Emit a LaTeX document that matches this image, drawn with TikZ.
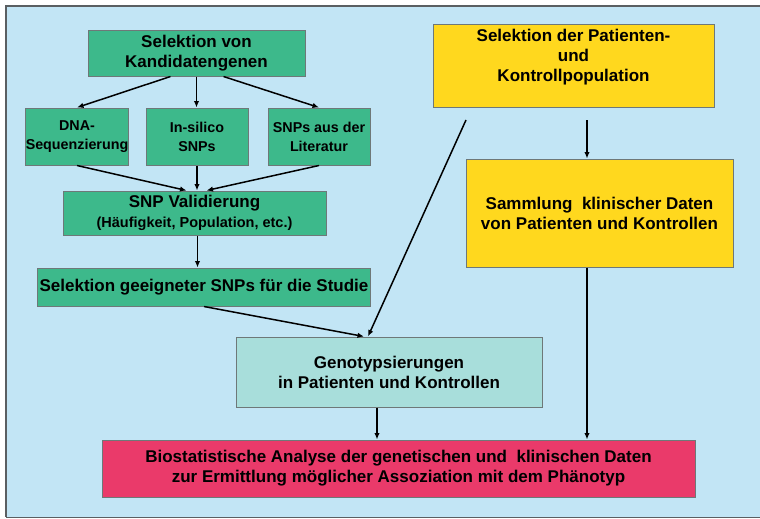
\documentclass[tikz,border=0pt]{standalone}
\usepackage{fontspec}
\setmainfont{Liberation Sans}
\usepackage{tikz}
\usetikzlibrary{arrows.meta}
\definecolor{panelblue}{HTML}{C2E5F5}
\definecolor{framegray}{HTML}{5A5F62}
\definecolor{boxline}{HTML}{6E7878}
\definecolor{snpgreen}{HTML}{3DB98B}
\definecolor{patyellow}{HTML}{FFD81E}
\definecolor{genotint}{HTML}{A8DEDB}
\definecolor{statred}{HTML}{EA3A6A}

\begin{document}
\begin{tikzpicture}[
    x=1pt, y=-1pt,
    font=\fontsize{17}{20}\selectfont\bfseries,
    box/.style={draw=boxline, line width=1pt, align=center, inner sep=2pt},
    snpbox/.style={box, fill=snpgreen},
    smallsnp/.style={snpbox, inner xsep=0pt, minimum height=57pt, font=\fontsize{14.3}{19}\selectfont\bfseries},
    patbox/.style={box, fill=patyellow},
    genobox/.style={box, fill=genotint},
    statbox/.style={box, fill=statred},
    flow/.style={-{Latex[length=6.5pt,width=5.5pt]}, line width=1.5pt}
]
  \useasboundingbox (0,0) rectangle (760,519);
  \fill[panelblue] (6,6) rectangle (760,517);
  \draw[framegray, line width=1.8pt] (6,517) -- (6,6) -- (760,6);
  \draw[framegray, line width=1pt] (6,517) -- (760,517);

  % SNP side
  \node[snpbox, minimum width=217pt, minimum height=45pt] (kand) at (196.5,53.5) {Selektion von\\Kandidatengenen};
  \node[smallsnp, minimum width=100pt] (dna) at (77,136.5) {DNA-\\Sequenzierung};
  \node[smallsnp, minimum width=102pt] (silico) at (197,136.5) {In-silico\\SNPs};
  \node[smallsnp, minimum width=102pt] (lit) at (319,136.5) {SNPs aus der\\Literatur};
  \node[snpbox, minimum width=263pt, minimum height=44pt] (valid) at (194.5,213) {SNP Validierung\\{\fontsize{14.5}{18}\selectfont (Häufigkeit, Population, etc.)}};
  \node[snpbox, minimum width=332pt, minimum height=38pt] (geeig) at (204,287) {Selektion geeigneter SNPs für die Studie};

  % Patienten side
  \node[patbox, minimum width=281pt, minimum height=82pt, text depth=21pt] (pat) at (573.5,66) {Selektion der Patienten-\\und\\Kontrollpopulation};
  \node[patbox, minimum width=267pt, minimum height=108pt] (samm) at (599.5,213) {Sammlung\ \ klinischer Daten\\von Patienten und Kontrollen};

  \node[genobox, minimum width=306pt, minimum height=70pt] (geno) at (389,372) {Genotypsierungen\\in Patienten und Kontrollen};
  \node[statbox, minimum width=593pt, minimum height=57pt] (bio) at (398.5,468.5) {Biostatistische Analyse der genetischen und\ \ klinischen Daten\\zur Ermittlung möglicher Assoziation mit dem Phänotyp};

  \coordinate (diagstart) at (466,120);
  \coordinate (patdown) at (587,120);

  \draw[flow] ([xshift=-26pt]kand.south) -- (dna.north);
  \draw[flow] (kand.south) -- (kand.south |- silico.north);
  \draw[flow] ([xshift=27pt]kand.south) -- (lit.north);
  \draw[flow] (dna.south) -- ([xshift=-8pt]valid.north);
  \draw[flow] (silico.south) -- (silico.south |- valid.north);
  \draw[flow] (lit.south) -- ([xshift=12pt]valid.north);
  \draw[flow] ([xshift=3pt]valid.south) -- ([xshift=3pt]valid.south |- geeig.north);
  \draw[flow] (geeig.south) -- ([xshift=-25pt]geno.north);
  \draw[flow] (diagstart) -- ([xshift=-21pt]geno.north);
  \draw[flow] (patdown) -- (patdown |- samm.north);
  \draw[flow] (patdown |- samm.south) -- (patdown |- bio.north);
  \draw[flow] ([xshift=-12pt]geno.south) -- ([xshift=-12pt]geno.south |- bio.north);
\end{tikzpicture}
\end{document}
